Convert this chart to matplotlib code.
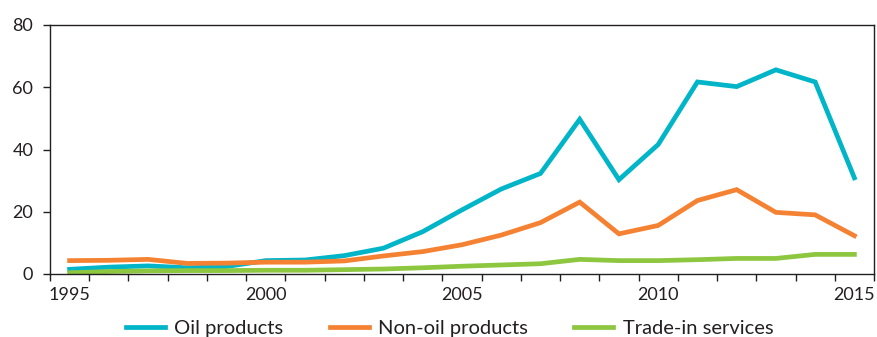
import numpy as np
import matplotlib
matplotlib.use("Agg")
import matplotlib.pyplot as plt

years = list(range(1995, 2016))
oil = [1.5, 2.2, 2.6, 2.0, 2.4, 4.3, 4.5, 5.9, 8.3, 13.6, 20.6, 27.3, 32.3,
       49.7, 30.3, 41.6, 61.7, 60.2, 65.6, 61.7, 30.9]
non_oil = [4.3, 4.4, 4.7, 3.4, 3.5, 3.8, 3.8, 4.2, 5.8, 7.2, 9.4, 12.5, 16.5,
           23.1, 12.9, 15.6, 23.6, 27.1, 19.8, 19.0, 12.3]
services = [0.4, 0.8, 1.0, 1.1, 1.1, 1.2, 1.2, 1.4, 1.6, 2.0, 2.5, 2.9, 3.3,
            4.7, 4.3, 4.3, 4.6, 5.0, 5.0, 6.3, 6.3]
labels = ["Oil products", "Non-oil products", "Trade-in services"]
colors = ["#00B5C8", "#F58232", "#8DC63F"]

plt.rcParams['font.family'] = ['Lato', 'DejaVu Sans']
text_color = "#231F20"

fig = plt.figure(figsize=(8.78, 3.37), dpi=100)
ax = fig.add_axes([50 / 878, 1 - 274 / 337, 824 / 878, 249 / 337])

x = np.arange(len(years))
for vals, lab, col in zip([oil, non_oil, services], labels, colors):
    ax.plot(x, vals, color=col, lw=3.4, label=lab, solid_joinstyle="miter")

ax.set_xlim(-0.5, len(years) - 0.5)
ax.set_ylim(0, 80)
ax.set_yticks([0, 20, 40, 60, 80])
major = [i for i, y in enumerate(years) if y % 5 == 0]
ax.set_xticks(major)
ax.set_xticklabels([str(years[i]) for i in major])
ax.set_xticks(np.arange(-0.5, len(years)), minor=True)

ax.tick_params(axis="x", which="major", length=0, pad=9, labelsize=13, labelcolor=text_color)
ax.tick_params(axis="x", which="minor", length=5, width=1, color=text_color, direction="out")
ax.tick_params(axis="y", length=5, width=1, color=text_color, pad=7, labelsize=13, labelcolor=text_color)

for s in ax.spines.values():
    s.set_color(text_color)
    s.set_linewidth(1)

fig.legend(loc="center", bbox_to_anchor=(0.512, 9 / 337), ncol=3, frameon=False,
           fontsize=14.5, handlelength=1.95, columnspacing=2.3, handletextpad=0.45,
           labelcolor=text_color)

fig.savefig("out.png", dpi=100)
